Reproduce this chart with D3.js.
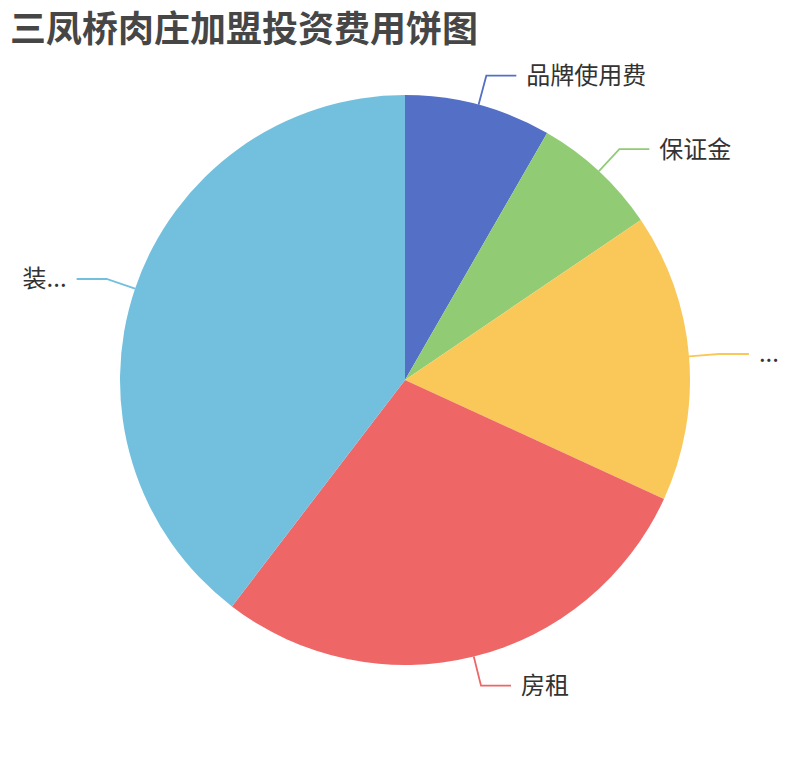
<!DOCTYPE html>
<html>
<head>
<meta charset="utf-8">
<script src="https://cdn.jsdelivr.net/npm/d3@7"></script>
<style>
  body { margin: 0; background: #fff; }
  svg { display: block; font-family: "Noto Sans CJK SC", "Noto Sans", sans-serif; }
</style>
</head>
<body>
<div id="chart"></div>
<script>
// data (values in 万元)
var names = ["品牌使用费", "保证金", "设备", "房租", "装修"];
var labels = ["品牌使用费", "保证金", "...", "房租", "装..."];
var values = [3, 2.6, 5.9, 10.3, 14.3];
var colors = ["#5470c6", "#91cc75", "#fac858", "#ee6666", "#73c0de"];

var width = 810, height = 760;
var cx = 405, cy = 380, radius = 285;

var svg = d3.select("#chart")
  .append("svg")
    .attr("width", width)
    .attr("height", height);

// title
svg.append("text")
    .attr("x", 10)
    .attr("y", 42)
    .attr("fill", "#464646")
    .style("font-size", "36px")
    .style("font-weight", "bold")
    .text("三凤桥肉庄加盟投资费用饼图");

var data = names.map(function(n, i) {
  return { name: n, label: labels[i], value: values[i], color: colors[i] };
});

var pie = d3.pie()
    .sort(null)
    .value(function(d) { return d.value; });

var arc = d3.arc()
    .innerRadius(0)
    .outerRadius(radius);

var g = svg.append("g")
    .attr("transform", "translate(" + cx + "," + cy + ")");

var arcs = pie(data);

g.selectAll(".slice")
    .data(arcs)
  .enter().append("path")
    .attr("class", "slice")
    .attr("d", arc)
    .attr("fill", function(d) { return d.data.color; });

// label lines: radial segment out to r+30, then 30px horizontal
var pt = function(a, r) { return [r * Math.sin(a), -r * Math.cos(a)]; };

arcs.forEach(function(d) {
  var mid = (d.startAngle + d.endAngle) / 2;
  var right = Math.sin(mid) >= 0;
  var p0 = pt(mid, radius);
  var p1 = pt(mid, radius + 30);
  var p2 = [p1[0] + (right ? 30 : -30), p1[1]];

  g.append("polyline")
      .attr("points", [p0, p1, p2].map(function(p) { return p.join(","); }).join(" "))
      .attr("fill", "none")
      .attr("stroke", d.data.color)
      .attr("stroke-width", 1.8);

  g.append("text")
      .attr("x", p2[0] + (right ? 10 : -10))
      .attr("y", p2[1])
      .attr("dy", "0.35em")
      .attr("text-anchor", right ? "start" : "end")
      .attr("fill", "#333")
      .style("font-size", "24px")
      .text(d.data.label);
});
</script>
</body>
</html>
